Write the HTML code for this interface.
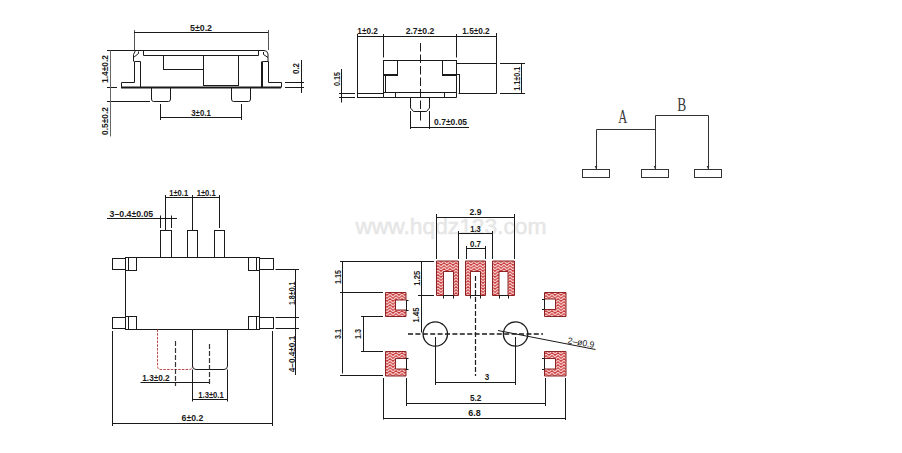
<!DOCTYPE html>
<html><head><meta charset="utf-8"><style>
html,body{margin:0;padding:0;background:#fff;}
body{width:902px;height:453px;overflow:hidden;position:relative;font-family:"Liberation Sans",sans-serif;}
svg{position:absolute;left:0;top:0;}
</style></head><body>
<svg width="902" height="453" viewBox="0 0 902 453">
<defs>
<pattern id="hatch" width="6" height="6" patternUnits="userSpaceOnUse">
<rect width="6" height="6" fill="#c83c3c"/>
<path d="M0,0 L3,3 M3,3 L6,0 M0,3 L3,6 M3,6 L6,3" stroke="#f6c4c4" stroke-width="1.3"/>
</pattern>
</defs>
<text x="451" y="233.5" font-size="22.5" font-family="Liberation Sans" fill="#e6e6e6" stroke="#e6e6e6" stroke-width="0.5" text-anchor="middle" textLength="191" lengthAdjust="spacingAndGlyphs">www.hqdz123.com</text>
<line x1="134.5" y1="30" x2="134.5" y2="50" stroke="#555" stroke-width="1"/>
<line x1="268.5" y1="30" x2="268.5" y2="50" stroke="#555" stroke-width="1"/>
<line x1="134" y1="32.5" x2="268" y2="32.5" stroke="#1a1a1a" stroke-width="1"/>
<text x="201" y="30.5" font-size="8.8" font-family="Liberation Sans" fill="#1a1a1a" text-anchor="middle" textLength="22" lengthAdjust="spacingAndGlyphs" font-weight="bold" stroke="#1a1a1a" stroke-width="0.01">5±0.2</text>
<line x1="107" y1="50.5" x2="264" y2="50.5" stroke="#1a1a1a" stroke-width="1"/>
<path d="M264,50.5 Q267.5,50.5 268,54 L268,61.5" fill="none" stroke="#1a1a1a" stroke-width="1"/>
<line x1="143.5" y1="50.5" x2="143.5" y2="55.5" stroke="#1a1a1a" stroke-width="1"/>
<line x1="258.5" y1="50.5" x2="258.5" y2="55.5" stroke="#1a1a1a" stroke-width="1"/>
<line x1="143.5" y1="55.5" x2="258.5" y2="55.5" stroke="#1a1a1a" stroke-width="1"/>
<rect x="163.5" y="55.5" width="40.0" height="14.0" fill="none" stroke="#1a1a1a" stroke-width="1"/>
<rect x="203.5" y="55.5" width="35.0" height="30.0" fill="none" stroke="#1a1a1a" stroke-width="1"/>
<path d="M135.5,50.5 L133.5,54.5 L133.5,61.5" fill="none" stroke="#1a1a1a" stroke-width="1"/>
<path d="M138.5,51.5 L138.5,53.5 L133.5,57.5" fill="none" stroke="#1a1a1a" stroke-width="1"/>
<path d="M263.5,52 L263.5,54.5 L268,57.5" fill="none" stroke="#1a1a1a" stroke-width="1"/>
<polyline points="134.5,61.5 140.5,61.5 140.5,87.5" fill="none" stroke="#1a1a1a" stroke-width="1"/>
<polyline points="134.5,61.5 134.5,82.5 121.5,82.5 121.5,87.5" fill="none" stroke="#1a1a1a" stroke-width="1"/>
<polyline points="268.5,61.5 262.5,61.5 262.5,87.5" fill="none" stroke="#1a1a1a" stroke-width="1"/>
<line x1="261.5" y1="61.5" x2="261.5" y2="87.5" stroke="#1a1a1a" stroke-width="1"/>
<polyline points="268.5,61.5 268.5,82.5 281.5,82.5 281.5,87.5" fill="none" stroke="#1a1a1a" stroke-width="1"/>
<line x1="121" y1="87.5" x2="281" y2="87.5" stroke="#1a1a1a" stroke-width="2"/>
<line x1="107" y1="87.5" x2="117" y2="87.5" stroke="#1a1a1a" stroke-width="1"/>
<path d="M151.5,87.5 L151.5,99 Q151.5,101.5 153.5,101.5 L168.5,101.5 Q170.5,101.5 170.5,99 L170.5,87.5" fill="none" stroke="#1a1a1a" stroke-width="1"/>
<path d="M231.5,87.5 L231.5,99 Q231.5,101.5 233.5,101.5 L248.5,101.5 Q250.5,101.5 250.5,99 L250.5,87.5" fill="none" stroke="#1a1a1a" stroke-width="1"/>
<line x1="107" y1="101.5" x2="150" y2="101.5" stroke="#1a1a1a" stroke-width="1"/>
<line x1="110.5" y1="50.5" x2="110.5" y2="136.5" stroke="#666" stroke-width="1"/>
<g transform="translate(105 69) rotate(-90)"><text x="0" y="3.17" font-size="8.8" font-family="Liberation Sans" fill="#1a1a1a" font-weight="bold" stroke="#1a1a1a" stroke-width="0.01" text-anchor="middle" textLength="28" lengthAdjust="spacingAndGlyphs">1.4±0.2</text></g>
<g transform="translate(105 121) rotate(-90)"><text x="0" y="3.17" font-size="8.8" font-family="Liberation Sans" fill="#1a1a1a" font-weight="bold" stroke="#1a1a1a" stroke-width="0.01" text-anchor="middle" textLength="28" lengthAdjust="spacingAndGlyphs">0.5±0.2</text></g>
<line x1="160.5" y1="104" x2="160.5" y2="120" stroke="#1a1a1a" stroke-width="1"/>
<line x1="241.5" y1="104" x2="241.5" y2="120" stroke="#1a1a1a" stroke-width="1"/>
<line x1="160.5" y1="117.5" x2="241.5" y2="117.5" stroke="#1a1a1a" stroke-width="1"/>
<text x="201" y="115.5" font-size="8.8" font-family="Liberation Sans" fill="#1a1a1a" text-anchor="middle" textLength="19.5" lengthAdjust="spacingAndGlyphs" font-weight="bold" stroke="#1a1a1a" stroke-width="0.01">3±0.1</text>
<line x1="301.5" y1="60" x2="301.5" y2="93" stroke="#1a1a1a" stroke-width="1"/>
<line x1="285" y1="82.5" x2="304" y2="82.5" stroke="#1a1a1a" stroke-width="1"/>
<line x1="285" y1="87.5" x2="304" y2="87.5" stroke="#1a1a1a" stroke-width="1"/>
<g transform="translate(296 68.5) rotate(-90)"><text x="0" y="3.17" font-size="8.8" font-family="Liberation Sans" fill="#1a1a1a" font-weight="bold" stroke="#1a1a1a" stroke-width="0.01" text-anchor="middle" textLength="11" lengthAdjust="spacingAndGlyphs">0.2</text></g>
<line x1="357.5" y1="34" x2="357.5" y2="97.5" stroke="#1a1a1a" stroke-width="1"/>
<line x1="357" y1="36.5" x2="496.5" y2="36.5" stroke="#1a1a1a" stroke-width="1"/>
<line x1="383.5" y1="34" x2="383.5" y2="57.5" stroke="#1a1a1a" stroke-width="1"/>
<line x1="456.5" y1="34" x2="456.5" y2="57.5" stroke="#1a1a1a" stroke-width="1"/>
<line x1="496.5" y1="33" x2="496.5" y2="93.5" stroke="#1a1a1a" stroke-width="1"/>
<text x="367.6" y="34" font-size="8.8" font-family="Liberation Sans" fill="#1a1a1a" text-anchor="middle" textLength="20.5" lengthAdjust="spacingAndGlyphs" font-weight="bold" stroke="#1a1a1a" stroke-width="0.01">1±0.2</text>
<text x="420" y="34" font-size="8.8" font-family="Liberation Sans" fill="#1a1a1a" text-anchor="middle" textLength="28.7" lengthAdjust="spacingAndGlyphs" font-weight="bold" stroke="#1a1a1a" stroke-width="0.01">2.7±0.2</text>
<text x="476" y="34" font-size="8.8" font-family="Liberation Sans" fill="#1a1a1a" text-anchor="middle" textLength="27.4" lengthAdjust="spacingAndGlyphs" font-weight="bold" stroke="#1a1a1a" stroke-width="0.01">1.5±0.2</text>
<line x1="420.5" y1="43" x2="420.5" y2="121" stroke="#1a1a1a" stroke-width="1" stroke-dasharray="8.5 3"/>
<line x1="383.5" y1="60.5" x2="456.5" y2="60.5" stroke="#1a1a1a" stroke-width="1"/>
<line x1="383.5" y1="60.5" x2="383.5" y2="97.5" stroke="#1a1a1a" stroke-width="1"/>
<line x1="456.5" y1="60.5" x2="456.5" y2="97.5" stroke="#1a1a1a" stroke-width="1"/>
<rect x="383.5" y="60.5" width="14.0" height="15.0" fill="none" stroke="#1a1a1a" stroke-width="1"/>
<line x1="383.5" y1="75" x2="397.5" y2="75" stroke="#1a1a1a" stroke-width="2"/>
<rect x="442.5" y="60.5" width="14.0" height="15.0" fill="none" stroke="#1a1a1a" stroke-width="1"/>
<line x1="442.5" y1="75" x2="456.5" y2="75" stroke="#1a1a1a" stroke-width="2"/>
<line x1="385.5" y1="75.5" x2="385.5" y2="92.5" stroke="#1a1a1a" stroke-width="1"/>
<line x1="459.5" y1="74" x2="459.5" y2="93.5" stroke="#1a1a1a" stroke-width="1"/>
<line x1="456.5" y1="74.5" x2="459" y2="74.5" stroke="#1a1a1a" stroke-width="1"/>
<line x1="383.5" y1="92.5" x2="456.5" y2="92.5" stroke="#1a1a1a" stroke-width="1"/>
<line x1="383.5" y1="97.5" x2="456.5" y2="97.5" stroke="#1a1a1a" stroke-width="1"/>
<line x1="395.5" y1="92.5" x2="395.5" y2="97.5" stroke="#1a1a1a" stroke-width="1"/>
<line x1="444.5" y1="92.5" x2="444.5" y2="97.5" stroke="#1a1a1a" stroke-width="1"/>
<line x1="357" y1="93.5" x2="383.5" y2="93.5" stroke="#1a1a1a" stroke-width="1"/>
<line x1="357" y1="97.5" x2="383.5" y2="97.5" stroke="#1a1a1a" stroke-width="1"/>
<line x1="341.5" y1="69" x2="341.5" y2="102.5" stroke="#1a1a1a" stroke-width="1"/>
<line x1="339" y1="93.5" x2="355" y2="93.5" stroke="#1a1a1a" stroke-width="1"/>
<line x1="339" y1="97.5" x2="355" y2="97.5" stroke="#1a1a1a" stroke-width="1"/>
<g transform="translate(336.6 79) rotate(-90)"><text x="0" y="3.17" font-size="8.8" font-family="Liberation Sans" fill="#1a1a1a" font-weight="bold" stroke="#1a1a1a" stroke-width="0.01" text-anchor="middle" textLength="14" lengthAdjust="spacingAndGlyphs">0.15</text></g>
<line x1="456.5" y1="63.5" x2="496.5" y2="63.5" stroke="#1a1a1a" stroke-width="1"/>
<line x1="458.5" y1="93.5" x2="496.5" y2="93.5" stroke="#1a1a1a" stroke-width="1"/>
<line x1="500" y1="63.5" x2="525" y2="63.5" stroke="#1a1a1a" stroke-width="1"/>
<line x1="500" y1="93.5" x2="525" y2="93.5" stroke="#1a1a1a" stroke-width="1"/>
<line x1="521.5" y1="63.5" x2="521.5" y2="93.5" stroke="#1a1a1a" stroke-width="1"/>
<g transform="translate(517.3 78.7) rotate(-90)"><text x="0" y="3.17" font-size="8.8" font-family="Liberation Sans" fill="#1a1a1a" font-weight="bold" stroke="#1a1a1a" stroke-width="0.01" text-anchor="middle" textLength="24" lengthAdjust="spacingAndGlyphs">1.1±0.1</text></g>
<path d="M410.5,97.5 L410.5,108 L413.5,111.5 L426.5,111.5 L429.5,108 L429.5,97.5" fill="none" stroke="#1a1a1a" stroke-width="1"/>
<line x1="410.5" y1="111" x2="410.5" y2="129" stroke="#1a1a1a" stroke-width="1"/>
<line x1="429.5" y1="111" x2="429.5" y2="129" stroke="#1a1a1a" stroke-width="1"/>
<line x1="410.5" y1="127.5" x2="469" y2="127.5" stroke="#1a1a1a" stroke-width="1"/>
<text x="450.6" y="125" font-size="8.8" font-family="Liberation Sans" fill="#1a1a1a" text-anchor="middle" textLength="33" lengthAdjust="spacingAndGlyphs" font-weight="bold" stroke="#1a1a1a" stroke-width="0.01">0.7±0.05</text>
<polyline points="596.5,169.5 596.5,129.5 655.5,129.5" fill="none" stroke="#333" stroke-width="1"/>
<polyline points="655.5,169.5 655.5,115.5 708.5,115.5 708.5,169.5" fill="none" stroke="#333" stroke-width="1"/>
<polygon points="594.7,166 597.3,166 596,169" fill="#333"/>
<polygon points="653.7,166 656.3,166 655,169" fill="#333"/>
<polygon points="706.7,166 709.3,166 708,169" fill="#333"/>
<rect x="582.5" y="169.5" width="27.0" height="8.0" fill="none" stroke="#333" stroke-width="1"/>
<rect x="641.5" y="169.5" width="27.0" height="8.0" fill="none" stroke="#333" stroke-width="1"/>
<rect x="694.5" y="169.5" width="27.0" height="8.0" fill="none" stroke="#333" stroke-width="1"/>
<text x="622.8" y="123" font-size="18" font-family="Liberation Serif" fill="#3a3a3a" text-anchor="middle" textLength="9" lengthAdjust="spacingAndGlyphs" font-weight="normal">A</text>
<text x="681.8" y="111" font-size="18" font-family="Liberation Serif" fill="#3a3a3a" text-anchor="middle" textLength="9" lengthAdjust="spacingAndGlyphs" font-weight="normal">B</text>
<rect x="160.5" y="230.5" width="11.0" height="27.0" fill="none" stroke="#1a1a1a" stroke-width="1"/>
<rect x="187.5" y="230.5" width="10.0" height="27.0" fill="none" stroke="#1a1a1a" stroke-width="1"/>
<rect x="214.5" y="230.5" width="10.0" height="27.0" fill="none" stroke="#1a1a1a" stroke-width="1"/>
<line x1="165.5" y1="195" x2="165.5" y2="230" stroke="#1a1a1a" stroke-width="1"/>
<line x1="192.5" y1="195" x2="192.5" y2="230" stroke="#1a1a1a" stroke-width="1"/>
<line x1="219.5" y1="195" x2="219.5" y2="228" stroke="#1a1a1a" stroke-width="1"/>
<line x1="165.5" y1="197.5" x2="219.5" y2="197.5" stroke="#1a1a1a" stroke-width="1"/>
<text x="178.7" y="196" font-size="8.8" font-family="Liberation Sans" fill="#1a1a1a" text-anchor="middle" textLength="19" lengthAdjust="spacingAndGlyphs" font-weight="bold" stroke="#1a1a1a" stroke-width="0.01">1±0.1</text>
<text x="206.2" y="196" font-size="8.8" font-family="Liberation Sans" fill="#1a1a1a" text-anchor="middle" textLength="19" lengthAdjust="spacingAndGlyphs" font-weight="bold" stroke="#1a1a1a" stroke-width="0.01">1±0.1</text>
<text x="131.4" y="216.5" font-size="8.8" font-family="Liberation Sans" fill="#1a1a1a" text-anchor="middle" textLength="43.6" lengthAdjust="spacingAndGlyphs" font-weight="bold" stroke="#1a1a1a" stroke-width="0.01">3–0.4±0.05</text>
<line x1="107" y1="218.5" x2="177" y2="218.5" stroke="#1a1a1a" stroke-width="1"/>
<line x1="160.5" y1="215.5" x2="160.5" y2="228" stroke="#1a1a1a" stroke-width="1"/>
<line x1="165.5" y1="215.5" x2="165.5" y2="228" stroke="#1a1a1a" stroke-width="1"/>
<line x1="171.5" y1="215.5" x2="171.5" y2="228" stroke="#1a1a1a" stroke-width="1"/>
<rect x="125.5" y="257.5" width="134.0" height="72.0" fill="none" stroke="#1a1a1a" stroke-width="1"/>
<rect x="112.5" y="258.5" width="13.0" height="11.0" fill="none" stroke="#1a1a1a" stroke-width="1"/>
<rect x="125.5" y="257.5" width="11.0" height="13.0" fill="none" stroke="#1a1a1a" stroke-width="1"/>
<line x1="128.5" y1="257" x2="128.5" y2="270.5" stroke="#1a1a1a" stroke-width="1"/>
<rect x="259.5" y="258.5" width="14.0" height="11.0" fill="none" stroke="#1a1a1a" stroke-width="1"/>
<rect x="248.5" y="257.5" width="11.0" height="13.0" fill="none" stroke="#1a1a1a" stroke-width="1"/>
<line x1="256.5" y1="257" x2="256.5" y2="270.5" stroke="#1a1a1a" stroke-width="1"/>
<rect x="112.5" y="317.5" width="13.0" height="11.0" fill="none" stroke="#1a1a1a" stroke-width="1"/>
<rect x="125.5" y="316.5" width="11.0" height="13.0" fill="none" stroke="#1a1a1a" stroke-width="1"/>
<line x1="128.5" y1="316" x2="128.5" y2="329.5" stroke="#1a1a1a" stroke-width="1"/>
<rect x="259.5" y="317.5" width="14.0" height="11.0" fill="none" stroke="#1a1a1a" stroke-width="1"/>
<rect x="248.5" y="316.5" width="11.0" height="13.0" fill="none" stroke="#1a1a1a" stroke-width="1"/>
<line x1="256.5" y1="316" x2="256.5" y2="329.5" stroke="#1a1a1a" stroke-width="1"/>
<path d="M157.5,329.5 L157.5,366 Q157.5,369.5 161,369.5 L189,369.5 Q192.5,369.5 192.5,366 L192.5,329.5" fill="none" stroke="#c04848" stroke-width="1" stroke-dasharray="2.5 1.2"/>
<path d="M192.5,329.5 L192.5,366 Q192.5,369.5 196,369.5 L224,369.5 Q227.5,369.5 227.5,366 L227.5,329.5" fill="none" stroke="#1a1a1a" stroke-width="1"/>
<line x1="175.5" y1="341" x2="175.5" y2="386" stroke="#333" stroke-width="1.2" stroke-dasharray="5 2"/>
<line x1="209.5" y1="344" x2="209.5" y2="386" stroke="#333" stroke-width="1.2" stroke-dasharray="5 2"/>
<text x="156" y="381" font-size="8.8" font-family="Liberation Sans" fill="#1a1a1a" text-anchor="middle" textLength="27.4" lengthAdjust="spacingAndGlyphs" font-weight="bold" stroke="#1a1a1a" stroke-width="0.01">1.3±0.2</text>
<line x1="140.5" y1="382.5" x2="209.5" y2="382.5" stroke="#1a1a1a" stroke-width="1"/>
<line x1="192.5" y1="369.5" x2="192.5" y2="401.5" stroke="#1a1a1a" stroke-width="1"/>
<line x1="227.5" y1="369.5" x2="227.5" y2="401.5" stroke="#1a1a1a" stroke-width="1"/>
<text x="211" y="397.5" font-size="8.8" font-family="Liberation Sans" fill="#1a1a1a" text-anchor="middle" textLength="25.5" lengthAdjust="spacingAndGlyphs" font-weight="bold" stroke="#1a1a1a" stroke-width="0.01">1.3±0.1</text>
<line x1="192.5" y1="399.5" x2="227.5" y2="399.5" stroke="#1a1a1a" stroke-width="1"/>
<text x="192.4" y="421" font-size="8.8" font-family="Liberation Sans" fill="#1a1a1a" text-anchor="middle" textLength="21.7" lengthAdjust="spacingAndGlyphs" font-weight="bold" stroke="#1a1a1a" stroke-width="0.01">6±0.2</text>
<line x1="112" y1="423.5" x2="272.5" y2="423.5" stroke="#1a1a1a" stroke-width="1"/>
<line x1="112.5" y1="331" x2="112.5" y2="426" stroke="#1a1a1a" stroke-width="1"/>
<line x1="272.5" y1="331" x2="272.5" y2="426" stroke="#1a1a1a" stroke-width="1"/>
<line x1="275.5" y1="269.5" x2="299" y2="269.5" stroke="#1a1a1a" stroke-width="1"/>
<line x1="275.5" y1="317.5" x2="299" y2="317.5" stroke="#1a1a1a" stroke-width="1"/>
<line x1="275.5" y1="328.5" x2="299" y2="328.5" stroke="#1a1a1a" stroke-width="1"/>
<line x1="295.5" y1="269.5" x2="295.5" y2="375" stroke="#1a1a1a" stroke-width="1"/>
<g transform="translate(291.5 293.3) rotate(-90)"><text x="0" y="3.17" font-size="8.8" font-family="Liberation Sans" fill="#1a1a1a" font-weight="bold" stroke="#1a1a1a" stroke-width="0.01" text-anchor="middle" textLength="23.5" lengthAdjust="spacingAndGlyphs">1.8±0.1</text></g>
<g transform="translate(291.5 354) rotate(-90)"><text x="0" y="3.17" font-size="8.8" font-family="Liberation Sans" fill="#1a1a1a" font-weight="bold" stroke="#1a1a1a" stroke-width="0.01" text-anchor="middle" textLength="36.5" lengthAdjust="spacingAndGlyphs">4–0.4±0.1</text></g>
<path d="M436.5,261 L458.5,261 L458.5,295.5 L453.5,295.5 L453.5,271.5 L443.5,271.5 L443.5,295.5 L436.5,295.5 Z" fill="url(#hatch)" stroke="#8a2424" stroke-width="1"/>
<line x1="443.5" y1="295.5" x2="453.5" y2="295.5" stroke="#1a1a1a" stroke-width="1"/>
<line x1="443.5" y1="295.5" x2="443.5" y2="298.5" stroke="#1a1a1a" stroke-width="1"/>
<line x1="453.5" y1="295.5" x2="453.5" y2="298.5" stroke="#1a1a1a" stroke-width="1"/>
<path d="M465.5,261 L485.5,261 L485.5,295.5 L480.5,295.5 L480.5,271.5 L470.5,271.5 L470.5,295.5 L465.5,295.5 Z" fill="url(#hatch)" stroke="#8a2424" stroke-width="1"/>
<line x1="470.5" y1="295.5" x2="480.5" y2="295.5" stroke="#1a1a1a" stroke-width="1"/>
<line x1="470.5" y1="295.5" x2="470.5" y2="298.5" stroke="#1a1a1a" stroke-width="1"/>
<line x1="480.5" y1="295.5" x2="480.5" y2="298.5" stroke="#1a1a1a" stroke-width="1"/>
<path d="M492.5,261 L514.5,261 L514.5,295.5 L508,295.5 L508,271.5 L499,271.5 L499,295.5 L492.5,295.5 Z" fill="url(#hatch)" stroke="#8a2424" stroke-width="1"/>
<line x1="499" y1="295.5" x2="508" y2="295.5" stroke="#1a1a1a" stroke-width="1"/>
<line x1="499.5" y1="295.5" x2="499.5" y2="298.5" stroke="#1a1a1a" stroke-width="1"/>
<line x1="508.5" y1="295.5" x2="508.5" y2="298.5" stroke="#1a1a1a" stroke-width="1"/>
<path d="M385.5,292.5 L406,292.5 L406,300 L395.5,300 L395.5,310 L406,310 L406,316.5 L385.5,316.5 Z" fill="url(#hatch)" stroke="#8a2424" stroke-width="1"/>
<line x1="406.5" y1="300" x2="406.5" y2="310" stroke="#1a1a1a" stroke-width="1"/>
<line x1="406" y1="300.5" x2="408.5" y2="300.5" stroke="#1a1a1a" stroke-width="1"/>
<line x1="406" y1="310.5" x2="408.5" y2="310.5" stroke="#1a1a1a" stroke-width="1"/>
<path d="M385.5,351.5 L406,351.5 L406,358.5 L395.5,358.5 L395.5,369 L406,369 L406,376 L385.5,376 Z" fill="url(#hatch)" stroke="#8a2424" stroke-width="1"/>
<line x1="406.5" y1="358.5" x2="406.5" y2="369" stroke="#1a1a1a" stroke-width="1"/>
<line x1="406" y1="358.5" x2="408.5" y2="358.5" stroke="#1a1a1a" stroke-width="1"/>
<line x1="406" y1="369.5" x2="408.5" y2="369.5" stroke="#1a1a1a" stroke-width="1"/>
<path d="M544.5,292.5 L566,292.5 L566,316.5 L544.5,316.5 L544.5,309.5 L555.5,309.5 L555.5,299 L544.5,299 Z" fill="url(#hatch)" stroke="#8a2424" stroke-width="1"/>
<line x1="544.5" y1="299" x2="544.5" y2="309.5" stroke="#1a1a1a" stroke-width="1"/>
<line x1="542.0" y1="299.5" x2="544.5" y2="299.5" stroke="#1a1a1a" stroke-width="1"/>
<line x1="542.0" y1="309.5" x2="544.5" y2="309.5" stroke="#1a1a1a" stroke-width="1"/>
<path d="M544.5,351.5 L566,351.5 L566,376 L544.5,376 L544.5,369 L555.5,369 L555.5,358.5 L544.5,358.5 Z" fill="url(#hatch)" stroke="#8a2424" stroke-width="1"/>
<line x1="544.5" y1="358.5" x2="544.5" y2="369" stroke="#1a1a1a" stroke-width="1"/>
<line x1="542.0" y1="358.5" x2="544.5" y2="358.5" stroke="#1a1a1a" stroke-width="1"/>
<line x1="542.0" y1="369.5" x2="544.5" y2="369.5" stroke="#1a1a1a" stroke-width="1"/>
<line x1="436.5" y1="214" x2="436.5" y2="259" stroke="#1a1a1a" stroke-width="1"/>
<line x1="514.5" y1="214" x2="514.5" y2="259" stroke="#1a1a1a" stroke-width="1"/>
<line x1="436.5" y1="217.5" x2="514.5" y2="217.5" stroke="#1a1a1a" stroke-width="1"/>
<text x="475.5" y="215" font-size="8.8" font-family="Liberation Sans" fill="#1a1a1a" text-anchor="middle" textLength="12" lengthAdjust="spacingAndGlyphs" font-weight="bold" stroke="#1a1a1a" stroke-width="0.01">2.9</text>
<line x1="458.5" y1="231" x2="458.5" y2="259" stroke="#1a1a1a" stroke-width="1"/>
<line x1="492.5" y1="231" x2="492.5" y2="259" stroke="#1a1a1a" stroke-width="1"/>
<line x1="458.5" y1="233.5" x2="492.5" y2="233.5" stroke="#1a1a1a" stroke-width="1"/>
<text x="475.5" y="231.5" font-size="8.8" font-family="Liberation Sans" fill="#1a1a1a" text-anchor="middle" textLength="10.5" lengthAdjust="spacingAndGlyphs" font-weight="bold" stroke="#1a1a1a" stroke-width="0.01">1.3</text>
<line x1="466.5" y1="246" x2="466.5" y2="259" stroke="#1a1a1a" stroke-width="1"/>
<line x1="485.5" y1="246" x2="485.5" y2="259" stroke="#1a1a1a" stroke-width="1"/>
<line x1="466" y1="248.5" x2="485" y2="248.5" stroke="#1a1a1a" stroke-width="1"/>
<text x="475.5" y="246.5" font-size="8.8" font-family="Liberation Sans" fill="#1a1a1a" text-anchor="middle" textLength="11" lengthAdjust="spacingAndGlyphs" font-weight="bold" stroke="#1a1a1a" stroke-width="0.01">0.7</text>
<line x1="340" y1="261.5" x2="434" y2="261.5" stroke="#1a1a1a" stroke-width="1"/>
<line x1="418" y1="295.5" x2="434" y2="295.5" stroke="#1a1a1a" stroke-width="1"/>
<line x1="342.5" y1="261.5" x2="342.5" y2="373.5" stroke="#1a1a1a" stroke-width="1"/>
<line x1="340" y1="292.5" x2="383" y2="292.5" stroke="#1a1a1a" stroke-width="1"/>
<line x1="340" y1="375.5" x2="383" y2="375.5" stroke="#1a1a1a" stroke-width="1"/>
<g transform="translate(337.5 277) rotate(-90)"><text x="0" y="3.17" font-size="8.8" font-family="Liberation Sans" fill="#1a1a1a" font-weight="bold" stroke="#1a1a1a" stroke-width="0.01" text-anchor="middle" textLength="14" lengthAdjust="spacingAndGlyphs">1.15</text></g>
<g transform="translate(337.5 334) rotate(-90)"><text x="0" y="3.17" font-size="8.8" font-family="Liberation Sans" fill="#1a1a1a" font-weight="bold" stroke="#1a1a1a" stroke-width="0.01" text-anchor="middle" textLength="10" lengthAdjust="spacingAndGlyphs">3.1</text></g>
<line x1="421.5" y1="261.5" x2="421.5" y2="332.5" stroke="#1a1a1a" stroke-width="1"/>
<g transform="translate(416.5 278.3) rotate(-90)"><text x="0" y="3.17" font-size="8.8" font-family="Liberation Sans" fill="#1a1a1a" font-weight="bold" stroke="#1a1a1a" stroke-width="0.01" text-anchor="middle" textLength="15" lengthAdjust="spacingAndGlyphs">1.25</text></g>
<g transform="translate(416 315) rotate(-90)"><text x="0" y="3.17" font-size="8.8" font-family="Liberation Sans" fill="#1a1a1a" font-weight="bold" stroke="#1a1a1a" stroke-width="0.01" text-anchor="middle" textLength="15" lengthAdjust="spacingAndGlyphs">1.45</text></g>
<line x1="363.5" y1="316.5" x2="363.5" y2="351.5" stroke="#1a1a1a" stroke-width="1"/>
<line x1="361" y1="316.5" x2="383" y2="316.5" stroke="#1a1a1a" stroke-width="1"/>
<line x1="361" y1="351.5" x2="383" y2="351.5" stroke="#1a1a1a" stroke-width="1"/>
<g transform="translate(358.3 334) rotate(-90)"><text x="0" y="3.17" font-size="8.8" font-family="Liberation Sans" fill="#1a1a1a" font-weight="bold" stroke="#1a1a1a" stroke-width="0.01" text-anchor="middle" textLength="10" lengthAdjust="spacingAndGlyphs">1.3</text></g>
<circle cx="435.3" cy="334" r="12.2" fill="none" stroke="#1a1a1a" stroke-width="1.3"/>
<circle cx="515.6" cy="334" r="12.2" fill="none" stroke="#1a1a1a" stroke-width="1.3"/>
<line x1="408" y1="334" x2="543" y2="334" stroke="#1a1a1a" stroke-width="1.7" stroke-dasharray="5 2.4"/>
<line x1="475.5" y1="276" x2="475.5" y2="376" stroke="#1a1a1a" stroke-width="1.2" stroke-dasharray="5 2"/>
<line x1="435.5" y1="337" x2="435.5" y2="385" stroke="#1a1a1a" stroke-width="1"/>
<line x1="515.5" y1="337" x2="515.5" y2="385" stroke="#1a1a1a" stroke-width="1"/>
<line x1="435.5" y1="382.5" x2="515.5" y2="382.5" stroke="#1a1a1a" stroke-width="1"/>
<text x="487" y="380" font-size="8.8" font-family="Liberation Sans" fill="#1a1a1a" text-anchor="middle" textLength="4.5" lengthAdjust="spacingAndGlyphs" font-weight="bold" stroke="#1a1a1a" stroke-width="0.01">3</text>
<line x1="406.5" y1="378" x2="406.5" y2="406" stroke="#1a1a1a" stroke-width="1"/>
<line x1="545.5" y1="378" x2="545.5" y2="406" stroke="#1a1a1a" stroke-width="1"/>
<line x1="406" y1="403.5" x2="545" y2="403.5" stroke="#1a1a1a" stroke-width="1"/>
<text x="475.7" y="401" font-size="8.8" font-family="Liberation Sans" fill="#1a1a1a" text-anchor="middle" textLength="11.5" lengthAdjust="spacingAndGlyphs" font-weight="bold" stroke="#1a1a1a" stroke-width="0.01">5.2</text>
<line x1="383.5" y1="378" x2="383.5" y2="419.5" stroke="#1a1a1a" stroke-width="1"/>
<line x1="565.5" y1="378" x2="565.5" y2="420" stroke="#1a1a1a" stroke-width="1"/>
<line x1="383" y1="418.5" x2="565.5" y2="418.5" stroke="#1a1a1a" stroke-width="1"/>
<text x="474.5" y="416" font-size="8.8" font-family="Liberation Sans" fill="#1a1a1a" text-anchor="middle" textLength="12.5" lengthAdjust="spacingAndGlyphs" font-weight="bold" stroke="#1a1a1a" stroke-width="0.01">6.8</text>
<line x1="498" y1="330.5" x2="595.5" y2="349.5" stroke="#1a1a1a" stroke-width="1"/>
<g transform="translate(580.3,346.5) rotate(10)"><text x="0" y="-1" font-size="8.8" font-family="Liberation Sans" fill="#1a1a1a" text-anchor="middle" textLength="27" lengthAdjust="spacingAndGlyphs">2–ø0.9</text></g>
</svg>
</body></html>
